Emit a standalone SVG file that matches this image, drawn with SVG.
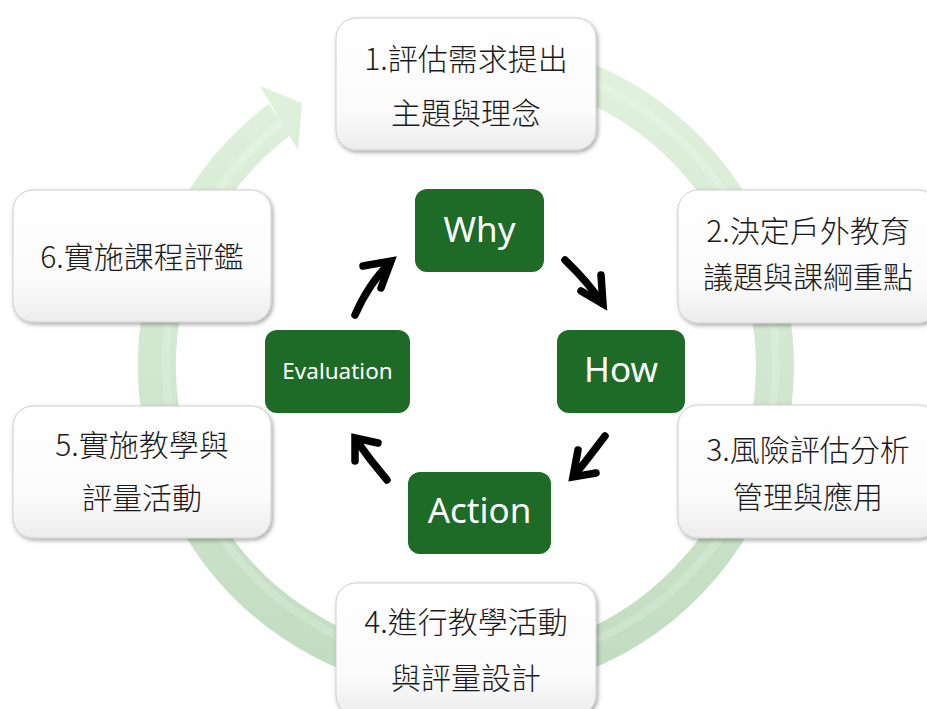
<svg xmlns="http://www.w3.org/2000/svg" width="927" height="709" viewBox="0 0 927 709">
<defs>
<linearGradient id="ringGrad" gradientUnits="userSpaceOnUse" x1="0" y1="40" x2="0" y2="690">
<stop offset="0" stop-color="#e2f2de"/>
<stop offset="1" stop-color="#c0dcc0"/>
</linearGradient>
<linearGradient id="boxGrad" x1="0" y1="0" x2="0" y2="1">
<stop offset="0" stop-color="#ffffff"/>
<stop offset="0.7" stop-color="#fbfbfb"/>
<stop offset="1" stop-color="#ececec"/>
</linearGradient>
<filter id="shadow" x="-10%" y="-10%" width="125%" height="130%">
<feDropShadow dx="1.5" dy="2" stdDeviation="2" flood-color="#000000" flood-opacity="0.35"/>
</filter>
</defs>
<style>
.ring{fill:none;stroke:url(#ringGrad);stroke-width:38}
.ringHi{fill:none;stroke:#ffffff;stroke-opacity:0.18;stroke-width:8}
.ringHead{fill:url(#ringGrad)}
.box{fill:url(#boxGrad);stroke:#cfcfcf;stroke-width:1;filter:url(#shadow)}
.gbox{fill:#1d6b27}
.cjk{font-family:"Noto Sans CJK TC","Noto Sans CJK SC",sans-serif;font-size:30px;font-weight:300;fill:#1a1a1a;text-anchor:middle}
.gt{font-family:"Noto Sans","Open Sans",sans-serif;fill:#ffffff;text-anchor:middle}
.arr{fill:none;stroke:#000000;stroke-width:7.5;stroke-linecap:round;stroke-linejoin:miter}
</style>
<rect width="927" height="709" fill="#ffffff"/>
<g id="cycle-ring">
<path class="ring" d="M439.1,58.2 A309,309 0 1 1 280,119.2"/>
<path class="ringHi" d="M439.1,58.2 A305,305 0 1 1 282,122"/>
<polygon class="ringHead" points="260,86 302,103 298,150"/>
</g>
<g id="node1"><rect class="box" x="336" y="18" width="260" height="132" rx="20"/><text class="cjk" x="466" y="70">1.評估需求提出</text><text class="cjk" x="466" y="124">主題與理念</text></g>
<g id="node2"><rect class="box" x="678" y="190" width="260" height="133" rx="20"/><text class="cjk" x="808" y="242">2.決定戶外教育</text><text class="cjk" x="808" y="288">議題與課綱重點</text></g>
<g id="node3"><rect class="box" x="678" y="405" width="260" height="133" rx="20"/><text class="cjk" x="808" y="461">3.風險評估分析</text><text class="cjk" x="808" y="508">管理與應用</text></g>
<g id="node4"><rect class="box" x="336" y="583" width="260" height="132" rx="20"/><text class="cjk" x="466" y="633">4.進行教學活動</text><text class="cjk" x="466" y="689">與評量設計</text></g>
<g id="node5"><rect class="box" x="13" y="406" width="258" height="132" rx="20"/><text class="cjk" x="142" y="456">5.實施教學與</text><text class="cjk" x="142" y="509">評量活動</text></g>
<g id="node6"><rect class="box" x="13" y="190" width="258" height="132" rx="20"/><text class="cjk" x="142" y="268">6.實施課程評鑑</text></g>
<g id="why"><rect class="gbox" x="415" y="189" width="129" height="83" rx="12"/><text class="gt" x="479.5" y="242" font-size="35">Why</text></g>
<g id="how"><rect class="gbox" x="557" y="330" width="128" height="83" rx="12"/><text class="gt" x="621" y="382" font-size="35">How</text></g>
<g id="action"><rect class="gbox" x="408" y="472" width="143" height="82" rx="12"/><text class="gt" x="479.5" y="523" font-size="35">Action</text></g>
<g id="evaluation"><rect class="gbox" x="265" y="330" width="145" height="83" rx="12"/><text class="gt" x="337.5" y="379" font-size="22.5">Evaluation</text></g>
<g id="connectors">
<path class="arr" d="M565,260 Q588,282 602,303"/><path class="arr" d="M601,275 L603,304 L581,291"/>
<path class="arr" d="M605,436 Q590,456 574,476"/><path class="arr" d="M596,473 L573,477 L578,450"/>
<path class="arr" d="M387,480 Q370,460 356,440"/><path class="arr" d="M355,461 L355,438 L378,443"/>
<path class="arr" d="M355,315 Q369,283 390,263"/><path class="arr" d="M363,266 L391,261 L381,288"/>
</g>
</svg>
